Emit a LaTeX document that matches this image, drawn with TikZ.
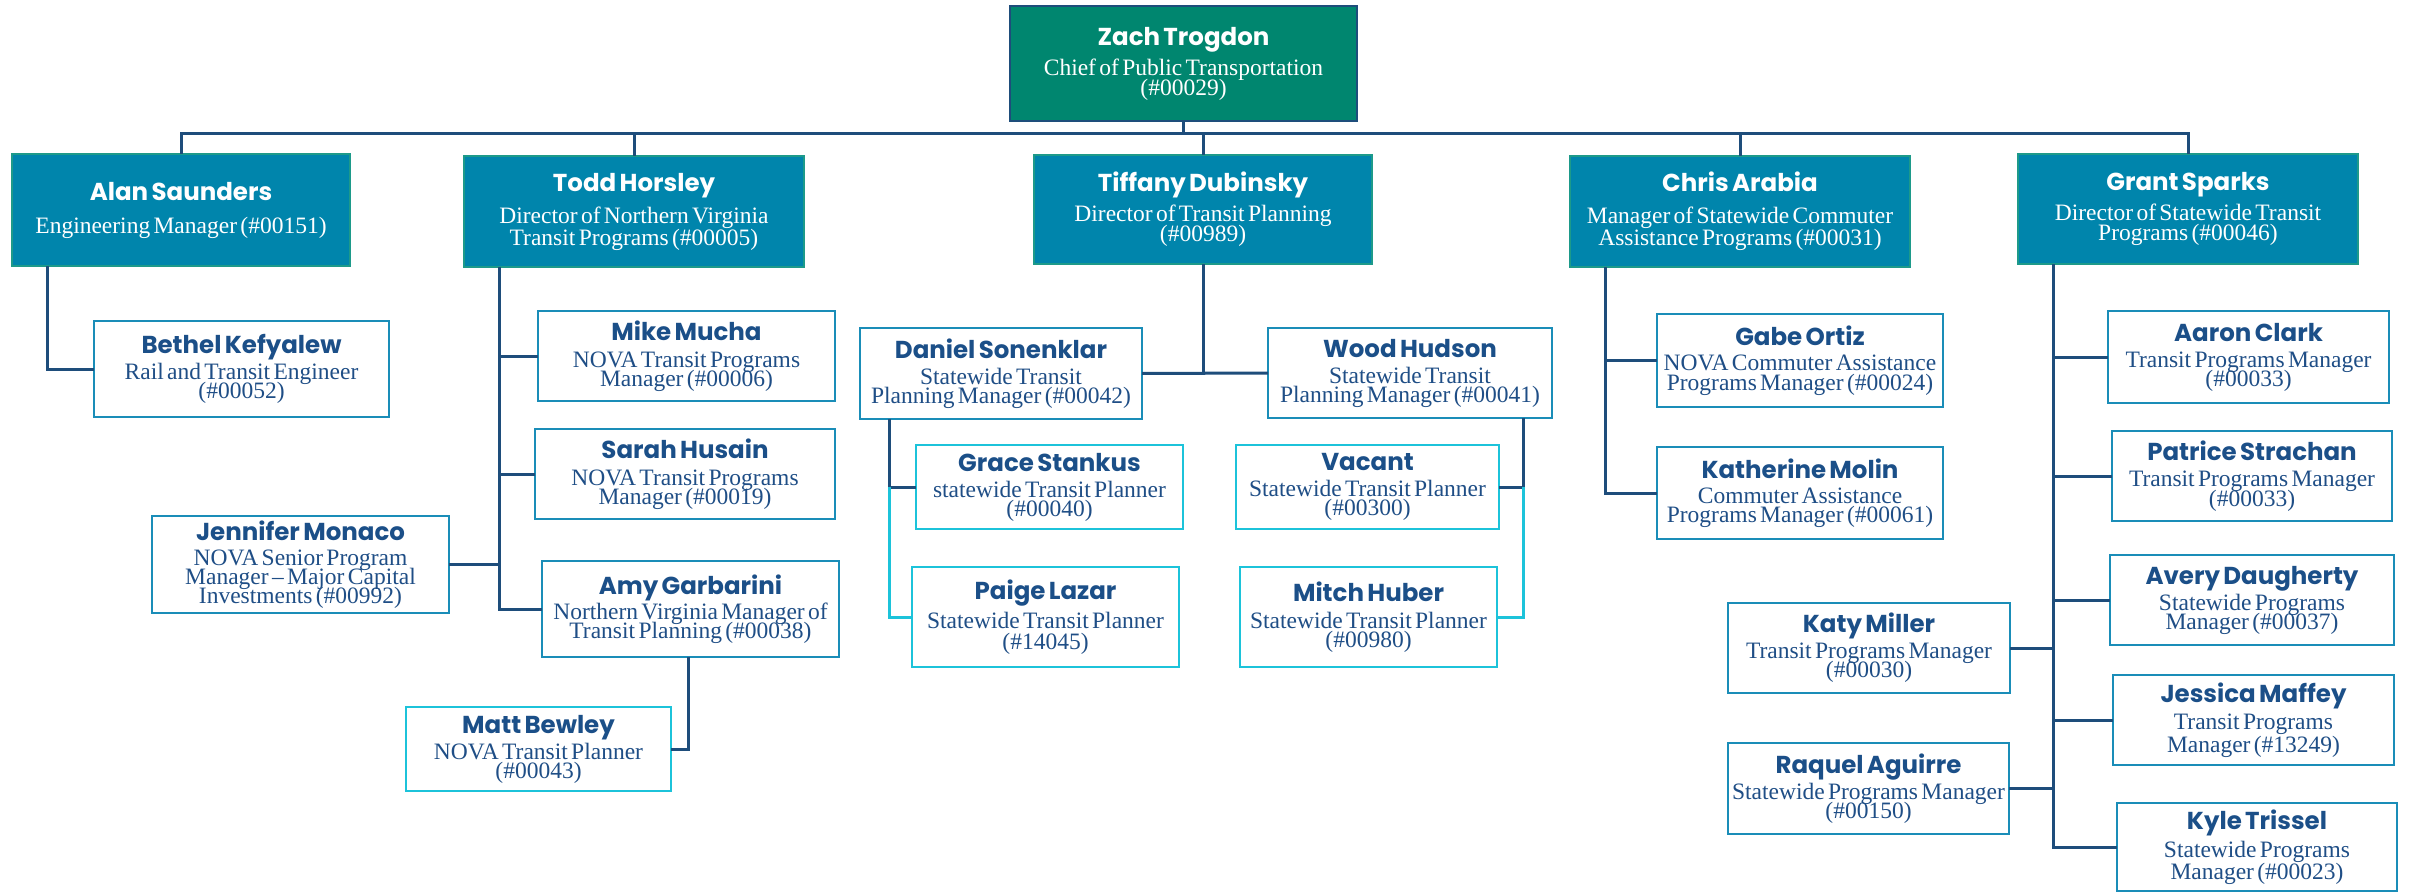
\documentclass[tikz,border=0pt]{standalone}
\usepackage{fontspec}
\setmainfont{Liberation Serif}
\newfontfamily\poppins{Poppins}
\definecolor{navy}{HTML}{1E4D7B}
\definecolor{nametext}{HTML}{1B4F88}
\definecolor{titletext}{HTML}{1F4E86}
\definecolor{hdrfill}{HTML}{0085AC}
\definecolor{hdrborder}{HTML}{1D9A8A}
\definecolor{topfill}{HTML}{00866F}
\definecolor{cardborder}{HTML}{1A8DB8}
\definecolor{cyanline}{HTML}{1CC3DA}
\newcommand{\card}[4]{%
 \parindent=0pt\lineskiplimit=-200pt
 {\poppins\bfseries\fontsize{24.5}{24.5}\selectfont\makebox[0pt]{#3}\par}%
 \vskip\dimexpr #1pt - #2pt\relax
 {\fontsize{23.5}{#2}\selectfont #4}}
\newcommand{\tline}[1]{\makebox[0pt]{#1}\par}
\tikzset{
 every node/.style={inner sep=0pt, outer sep=0pt},
 topbox/.style={rectangle, fill=topfill, draw=navy, line width=2.5pt, text=white, align=center},
 hdr/.style={rectangle, fill=hdrfill, draw=hdrborder, line width=1.8pt, text=white, align=center},
 card/.style={rectangle, fill=white, draw=cardborder, line width=2.5pt, text=titletext, align=center},
 ccard/.style={rectangle, fill=white, draw=cyanline, line width=2.5pt, text=titletext, align=center},
 conn/.style={draw=navy, line width=3pt},
 cconn/.style={draw=cyanline, line width=3pt},
}
\newcommand{\nm}[1]{\textcolor{nametext}{#1}}
\begin{document}
\begin{tikzpicture}[x=1pt,y=-1pt]
\useasboundingbox (0,0) rectangle (2410,893);
% top
\node[topbox, minimum width=347pt, minimum height=115pt, text width=347pt] (zach) at (1183.5,63.5)
 {\card{30}{20}{Zach Trogdon}{\tline{Chief of Public Transportation}\tline{(\#00029)}}};
% headers
\node[hdr, minimum width=338pt, minimum height=112pt, text width=338pt] (alan) at (181,210)
 {\card{33}{20}{Alan Saunders}{\tline{Engineering Manager (\#00151)}}};
\node[hdr, minimum width=340pt, minimum height=111pt, text width=340pt] (todd) at (634,211.5)
 {\card{32}{22}{Todd Horsley}{\tline{Director of Northern Virginia}\tline{Transit Programs (\#00005)}}};
\node[hdr, minimum width=338pt, minimum height=109pt, text width=338pt] (tiff) at (1203,209.5)
 {\card{30}{20}{Tiffany Dubinsky}{\tline{Director of Transit Planning}\tline{(\#00989)}}};
\node[hdr, minimum width=340pt, minimum height=111pt, text width=340pt] (chris) at (1740,211.5)
 {\card{32}{22}{Chris Arabia}{\tline{Manager of Statewide Commuter}\tline{Assistance Programs (\#00031)}}};
\node[hdr, minimum width=340pt, minimum height=110pt, text width=340pt] (grant) at (2188,209)
 {\card{30}{20}{Grant Sparks}{\tline{Director of Statewide Transit}\tline{Programs (\#00046)}}};
% Alan's team
\node[card, minimum width=295pt, minimum height=96pt, text width=295pt] (bethel) at (241.5,369)
 {\card{26}{19}{\nm{Bethel Kefyalew}}{\tline{Rail and Transit Engineer}\tline{(\#00052)}}};
% Todd's team
\node[card, minimum width=297pt, minimum height=90pt, text width=297pt] (mike) at (686.5,356)
 {\card{27}{19}{\nm{Mike Mucha}}{\tline{NOVA Transit Programs}\tline{Manager (\#00006)}}};
\node[card, minimum width=300pt, minimum height=90pt, text width=300pt] (sarah) at (685,474)
 {\card{27}{19}{\nm{Sarah Husain}}{\tline{NOVA Transit Programs}\tline{Manager (\#00019)}}};
\node[card, minimum width=297pt, minimum height=97pt, text width=297pt] (jennifer) at (300.5,564.5)
 {\card{25}{19}{\nm{Jennifer Monaco}}{\tline{NOVA Senior Program}\tline{Manager -- Major Capital}\tline{Investments (\#00992)}}};
\node[card, minimum width=297pt, minimum height=96pt, text width=297pt] (amy) at (690.5,609)
 {\card{25}{19}{\nm{Amy Garbarini}}{\tline{Northern Virginia Manager of}\tline{Transit Planning (\#00038)}}};
\node[ccard, minimum width=265pt, minimum height=84pt, text width=265pt] (matt) at (538.5,749)
 {\card{26}{19}{\nm{Matt Bewley}}{\tline{NOVA Transit Planner}\tline{(\#00043)}}};
% Tiffany's team
\node[card, minimum width=282pt, minimum height=91pt, text width=282pt] (daniel) at (1001,373.5)
 {\card{26}{19}{\nm{Daniel Sonenklar}}{\tline{Statewide Transit}\tline{Planning Manager (\#00042)}}};
\node[card, minimum width=284pt, minimum height=90pt, text width=284pt] (wood) at (1410,373)
 {\card{26}{19}{\nm{Wood Hudson}}{\tline{Statewide Transit}\tline{Planning Manager (\#00041)}}};
\node[ccard, minimum width=267pt, minimum height=84pt, text width=267pt] (grace) at (1049.5,487)
 {\card{26}{19}{\nm{Grace Stankus}}{\tline{statewide Transit Planner}\tline{(\#00040)}}};
\node[ccard, minimum width=267pt, minimum height=100pt, text width=267pt] (paige) at (1045.5,617)
 {\card{29}{21}{\nm{Paige Lazar}}{\tline{Statewide Transit Planner}\tline{(\#14045)}}};
\node[ccard, minimum width=263pt, minimum height=84pt, text width=263pt] (vacant) at (1367.5,487)
 {\card{26}{19}{\nm{Vacant}}{\tline{Statewide Transit Planner}\tline{(\#00300)}}};
\node[ccard, minimum width=257pt, minimum height=100pt, text width=257pt] (mitch) at (1368.5,617)
 {\card{27}{19}{\nm{Mitch Huber}}{\tline{Statewide Transit Planner}\tline{(\#00980)}}};
% Chris's team
\node[card, minimum width=286pt, minimum height=93pt, text width=286pt] (gabe) at (1800,360.5)
 {\card{25}{20}{\nm{Gabe Ortiz}}{\tline{NOVA Commuter Assistance}\tline{Programs Manager (\#00024)}}};
\node[card, minimum width=286pt, minimum height=92pt, text width=286pt] (kath) at (1800,493)
 {\card{25}{19}{\nm{Katherine Molin}}{\tline{Commuter Assistance}\tline{Programs Manager (\#00061)}}};
% Grant's team
\node[card, minimum width=281pt, minimum height=92pt, text width=281pt] (aaron) at (2248.5,357)
 {\card{26}{19}{\nm{Aaron Clark}}{\tline{Transit Programs Manager}\tline{(\#00033)}}};
\node[card, minimum width=280pt, minimum height=90pt, text width=280pt] (patrice) at (2252,476)
 {\card{26}{20}{\nm{Patrice Strachan}}{\tline{Transit Programs Manager}\tline{(\#00033)}}};
\node[card, minimum width=284pt, minimum height=90pt, text width=284pt] (avery) at (2252,600)
 {\card{26}{19}{\nm{Avery Daugherty}}{\tline{Statewide Programs}\tline{Manager (\#00037)}}};
\node[card, minimum width=281pt, minimum height=90pt, text width=281pt] (jessica) at (2253.5,720)
 {\card{27}{23}{\nm{Jessica Maffey}}{\tline{Transit Programs}\tline{Manager (\#13249)}}};
\node[card, minimum width=280pt, minimum height=88pt, text width=280pt] (kyle) at (2257,847)
 {\card{28}{22}{\nm{Kyle Trissel}}{\tline{Statewide Programs}\tline{Manager (\#00023)}}};
\node[card, minimum width=282pt, minimum height=90pt, text width=282pt] (katy) at (1869,648)
 {\card{26}{19}{\nm{Katy Miller}}{\tline{Transit Programs Manager}\tline{(\#00030)}}};
\node[card, minimum width=281pt, minimum height=91pt, text width=281pt] (raquel) at (1868.5,788.5)
 {\card{26}{19}{\nm{Raquel Aguirre}}{\tline{Statewide Programs Manager}\tline{(\#00150)}}};
% top level connectors
\coordinate (bus) at (0,134);
\draw[conn] (zach.south) -- (zach.south |- bus);
\draw[conn] (alan.north) -- (alan.north |- bus) -| (grant.north);
\draw[conn] (todd.north) -- (todd.north |- bus);
\draw[conn] (tiff.north) -- (tiff.north |- bus);
\draw[conn] (chris.north) -- (chris.north |- bus);
% Alan
\draw[conn] ([xshift=35pt]alan.south west) |- (bethel.west);
% Todd
\coordinate (tv) at ([xshift=35pt]todd.south west);
\draw[conn] (tv) |- (amy.west);
\draw[conn] (mike.west) -- (mike.west -| tv);
\draw[conn] (sarah.west) -- (sarah.west -| tv);
\draw[conn] (jennifer.east) -- (jennifer.east -| tv);
\draw[conn] ([xshift=-2pt]amy.south) |- (matt.east);
% Tiffany
\draw[conn] (tiff.south) -- (tiff.south |- daniel.east);
\draw[conn] (daniel.east) -- (wood.west);
\coordinate (dv) at ([xshift=29pt]daniel.south west);
\draw[conn] (dv) |- (grace.west);
\draw[cconn] (dv |- grace.west) |- (paige.west);
\coordinate (wv) at ([xshift=-29pt]wood.south east);
\draw[conn] (wv) |- (vacant.east);
\draw[cconn] (wv |- vacant.east) |- (mitch.east);
% Chris
\coordinate (cv) at ([xshift=35pt]chris.south west);
\draw[conn] (cv) |- (kath.west);
\draw[conn] (gabe.west) -- (gabe.west -| cv);
% Grant
\coordinate (gv) at ([xshift=35pt]grant.south west);
\draw[conn] (gv) |- (kyle.west);
\draw[conn] (aaron.west) -- (aaron.west -| gv);
\draw[conn] (patrice.west) -- (patrice.west -| gv);
\draw[conn] (avery.west) -- (avery.west -| gv);
\draw[conn] (jessica.west) -- (jessica.west -| gv);
\draw[conn] (katy.east) -- (katy.east -| gv);
\draw[conn] (raquel.east) -- (raquel.east -| gv);
\end{tikzpicture}
\end{document}
